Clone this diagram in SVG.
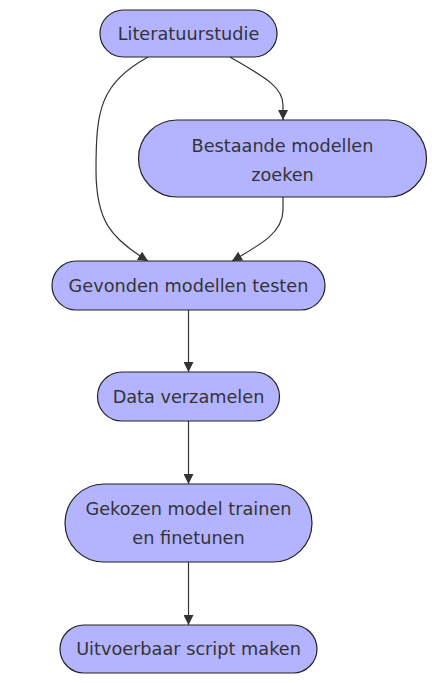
<svg xmlns="http://www.w3.org/2000/svg" width="432" height="683" viewBox="0 0 432 683">
<style>
.n rect{fill:#b3b3ff;stroke:#222;stroke-width:1.2}
.n text{font-family:"DejaVu Sans","Open Sans",sans-serif;font-size:17.7px;fill:#333;text-anchor:middle;dominant-baseline:central}
.e path{fill:none;stroke:#333;stroke-width:1.2}
</style>
<defs>
<marker id="a" viewBox="0 0 10 10" refX="10" refY="5" markerWidth="10" markerHeight="10" markerUnits="userSpaceOnUse" orient="auto">
<path d="M0,0 L10,5 L0,10 z" fill="#333"/>
</marker>
</defs>
<rect width="432" height="683" fill="#fff"/>
<g class="e">
<path d="M230,57 C262,76 283,86 283,105 L283,120" marker-end="url(#a)"/>
<path d="M148,57 C100,84 96,110 96,170 C96,220 110,238 148,261" marker-end="url(#a)"/>
<path d="M283,197 L283,210 C283,232 262,244 232,261" marker-end="url(#a)"/>
<path d="M188.5,310 L188.5,372" marker-end="url(#a)"/>
<path d="M188.5,421 L188.5,484" marker-end="url(#a)"/>
<path d="M188.5,562 L188.5,625" marker-end="url(#a)"/>
</g>
<g id="n1" class="n"><rect x="100" y="10" width="177" height="47" rx="23.5"/><text x="188.5" y="33.5">Literatuurstudie</text></g>
<g id="n2" class="n"><rect x="138.5" y="120" width="288" height="77" rx="38.5"/><text x="282.5" y="146">Bestaande modellen</text><text x="282.5" y="175">zoeken</text></g>
<g id="n3" class="n"><rect x="52" y="261" width="273" height="49" rx="24.5"/><text x="188.5" y="285.5">Gevonden modellen testen</text></g>
<g id="n4" class="n"><rect x="97.5" y="372" width="182" height="49" rx="24.5"/><text x="188.5" y="396.5">Data verzamelen</text></g>
<g id="n5" class="n"><rect x="65" y="484" width="247" height="78" rx="39"/><text x="188.5" y="509">Gekozen model trainen</text><text x="188.5" y="538">en finetunen</text></g>
<g id="n6" class="n"><rect x="60" y="625" width="257" height="48" rx="24"/><text x="188.5" y="649">Uitvoerbaar script maken</text></g>
</svg>
